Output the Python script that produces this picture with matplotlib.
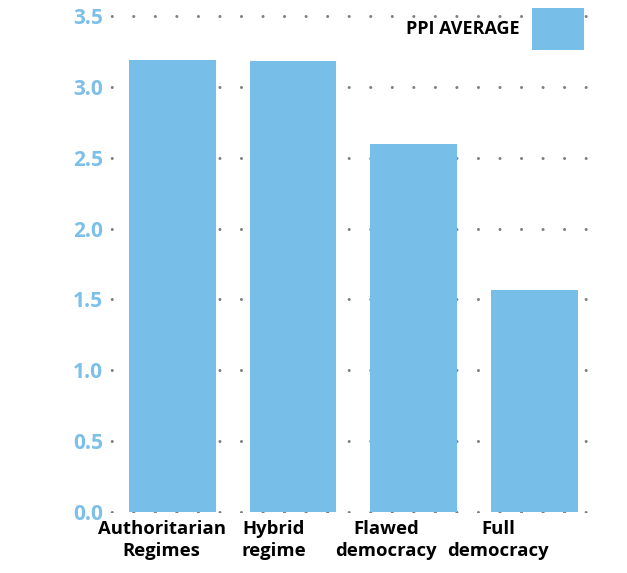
import matplotlib
matplotlib.use("Agg")
import matplotlib.pyplot as plt

plt.rcParams['font.family'] = ['Open Sans', 'DejaVu Sans']
plt.rcParams['font.weight'] = 'bold'
plt.rcParams['lines.scale_dashes'] = False

regimes = ['Authoritarian\nRegimes', 'Hybrid\nregime', 'Flawed\ndemocracy', 'Full\ndemocracy']
ppi_avg = [3.19, 3.18, 2.60, 1.57]
yticks = [0.0, 0.5, 1.0, 1.5, 2.0, 2.5, 3.0, 3.5]
# category labels sit a little left of the bars, spread slightly tighter
label_pos = [-0.087, 0.84, 1.77, 2.70]

bar_color = '#77BEE9'

fig = plt.figure(figsize=(6.27, 5.73), dpi=100)
ax = fig.add_axes([0.1707, 0.104, 0.7703, 0.873])

x = range(len(regimes))
ax.bar(x, ppi_avg, width=0.72, color=bar_color, label='PPI AVERAGE', zorder=2)

ax.set_xlim(-0.54, 3.46)
ax.set_ylim(-0.01, 3.52)
ax.set_yticks(yticks)
ax.set_yticklabels([f'{v:.1f}' for v in yticks])
ax.set_xticks(label_pos)
ax.set_xticklabels(regimes, linespacing=1.25)

ax.tick_params(axis='y', length=0, pad=3, labelsize=15, labelcolor='#7CC0EA')
ax.tick_params(axis='x', length=0, pad=5, labelsize=13.3, labelcolor='black')

# dotted horizontal grid: tiny dashes with round caps become dots
ax.grid(axis='y', color='#7f7f7f', linewidth=2.2,
        linestyle=(12.1, (0.01, 15.5)), zorder=0)
for line in ax.get_ygridlines():
    line.set_dash_capstyle('round')
ax.set_axisbelow(True)
for s in ax.spines.values():
    s.set_visible(False)

fs = 13 * 100 / 72
ax.legend(loc='upper right', bbox_to_anchor=(584 / 627, 1 - 8 / 573),
          bbox_transform=fig.transFigure, frameon=False, markerfirst=False,
          fontsize=13, handlelength=52 / fs, handleheight=3.2,
          handletextpad=12 / fs, borderpad=0, borderaxespad=0)

fig.savefig('out.png', dpi=100)
